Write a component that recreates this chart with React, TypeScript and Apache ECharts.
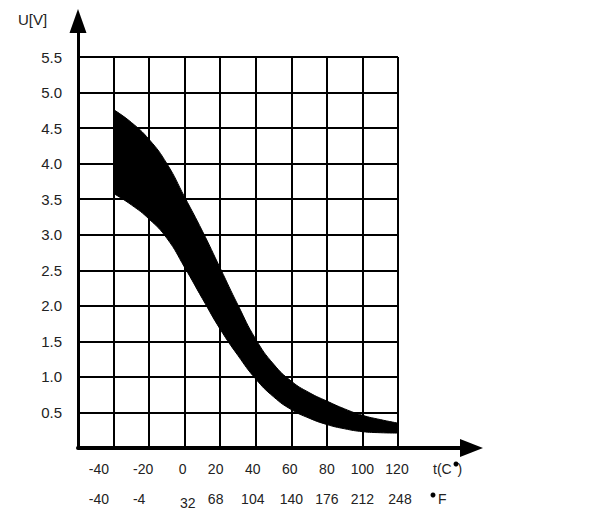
import React, { useEffect, useRef } from "react";
import * as echarts from "echarts";

// Band data: temperature (°C) points and voltage limits (V)
const tempPoints = [-40, -30, -20, -10, 0, 10, 20, 30, 40, 50, 60, 70, 80, 90, 100, 110, 120];
const upperV = [4.76, 4.58, 4.34, 4.0, 3.53, 3.05, 2.53, 2.01, 1.53, 1.18, 0.94, 0.78, 0.66, 0.55, 0.46, 0.4, 0.35];
const lowerV = [3.58, 3.42, 3.22, 2.95, 2.54, 2.1, 1.67, 1.3, 0.97, 0.72, 0.54, 0.42, 0.33, 0.27, 0.23, 0.215, 0.21];

// Tick labels
const celsiusTicks = [-40, -20, 0, 20, 40, 60, 80, 100, 120];
const fahrenheitTicks = [-40, -4, 32, 68, 104, 140, 176, 212, 248];

// label horizontal nudges (layout only)
const cShift = [-14.6, -6, -2, -4.6, -3, -1.6, 0, 0, -1];
const fShift = [-14.6, -10, 3, -4.6, -3, 0, 0, 0, 2];
const fDrop = [0, 0, 4, 0, 0, 0, 0, 0, 0];

const FONT = "'Liberation Sans', Arial, sans-serif";
const TXT = "#222";

function richFor(shifts: number[], drops: number[] | null, size: number) {
  const r: any = {};
  shifts.forEach((s, i) => {
    const d = drops ? drops[i] : 0;
    r["s" + i] = {
      fontSize: size,
      fontFamily: FONT,
      color: TXT,
      padding: [d, s < 0 ? -2 * s : 0, 0, s > 0 ? 2 * s : 0],
    };
  });
  return r;
}

export default function App() {
  const ref = useRef<HTMLDivElement>(null);
  useEffect(() => {
    document.body.style.margin = "0";
    const chart = echarts.init(ref.current!, null, { renderer: "svg" });
    const L = 78;
    const R = 398;
    const T = 57;
    const B = 448;
    const pxPerDeg = (R - L) / 180;
    const bandLeft = L + 20 * pxPerDeg;

    const diff = upperV.map((u, i) => +(u - lowerV[i]).toFixed(3));

    const option: any = {
      animation: false,
      backgroundColor: "#fff",
      grid: [
        { left: L, top: T, width: R - L, height: B - T },
        { left: L, top: 21, width: 471.5 - L, height: B - 21 },
        { left: bandLeft, top: T, width: R - bandLeft, height: B - T },
      ],
      xAxis: [
        {
          gridIndex: 0,
          type: "value",
          min: -60,
          max: 120,
          interval: 20,
          axisLine: { show: false },
          axisTick: { show: false },
          splitLine: { show: true, lineStyle: { color: "#000", width: 2 } },
          axisLabel: {
            margin: 14,
            formatter: (v: number) => {
              const i = celsiusTicks.indexOf(v);
              return i < 0 ? "" : `{s${i}|${celsiusTicks[i]}}`;
            },
            rich: richFor(cShift, null, 14),
          },
        },
        {
          gridIndex: 0,
          type: "value",
          position: "bottom",
          min: -60,
          max: 120,
          interval: 20,
          axisLine: { show: false },
          axisTick: { show: false },
          splitLine: { show: false },
          axisLabel: {
            margin: 44,
            formatter: (v: number) => {
              const i = celsiusTicks.indexOf(v);
              return i < 0 ? "" : `{s${i}|${fahrenheitTicks[i]}}`;
            },
            rich: richFor(fShift, fDrop, 14),
          },
        },
        {
          gridIndex: 1,
          type: "value",
          min: 0,
          max: 1,
          axisLine: {
            show: true,
            symbol: ["none", "triangle"],
            symbolSize: [18, 23],
            lineStyle: { color: "#000", width: 4 },
          },
          axisTick: { show: false },
          axisLabel: { show: false },
          splitLine: { show: false },
        },
        {
          gridIndex: 2,
          type: "category",
          data: tempPoints.map(String),
          boundaryGap: false,
          show: false,
        },
      ],
      yAxis: [
        {
          gridIndex: 0,
          type: "value",
          min: 0,
          max: 5.5,
          interval: 0.5,
          axisLine: { show: false },
          axisTick: { show: false },
          splitLine: { show: true, lineStyle: { color: "#000", width: 2 } },
          axisLabel: {
            margin: 16,
            fontSize: 15,
            fontFamily: FONT,
            color: TXT,
            formatter: (v: number) => (v === 0 ? "" : v.toFixed(1)),
          },
        },
        {
          gridIndex: 1,
          type: "value",
          min: 0,
          max: 1,
          axisLine: {
            show: true,
            symbol: ["none", "triangle"],
            symbolSize: [17, 24],
            lineStyle: { color: "#000", width: 3 },
          },
          axisTick: { show: false },
          axisLabel: { show: false },
          splitLine: { show: false },
        },
        {
          gridIndex: 2,
          type: "value",
          min: 0,
          max: 5.5,
          show: false,
        },
      ],
      series: [
        {
          type: "line",
          xAxisIndex: 3,
          yAxisIndex: 2,
          stack: "band",
          data: lowerV,
          smooth: 0.5,
          symbol: "none",
          lineStyle: { color: "#000", width: 1 },
          z: 5,
        },
        {
          type: "line",
          xAxisIndex: 3,
          yAxisIndex: 2,
          stack: "band",
          data: diff,
          smooth: 0.5,
          symbol: "none",
          lineStyle: { color: "#000", width: 1 },
          areaStyle: { color: "#000", opacity: 1 },
          z: 5,
        },
      ],
      graphic: [
        {
          type: "text",
          x: 18,
          y: 19,
          style: { text: "U[V]", fontSize: 15, fontFamily: FONT, fill: TXT, align: "left", verticalAlign: "middle" },
        },
        {
          type: "text",
          x: 433,
          y: 469,
          style: { text: "t(C", fontSize: 14, fontFamily: FONT, fill: TXT, align: "left", verticalAlign: "middle" },
        },
        {
          type: "text",
          x: 457.5,
          y: 469,
          style: { text: ")", fontSize: 14, fontFamily: FONT, fill: TXT, align: "left", verticalAlign: "middle" },
        },
        { type: "circle", shape: { cx: 456, cy: 464, r: 2.5 }, style: { fill: "#000" } },
        { type: "circle", shape: { cx: 433, cy: 495, r: 2.5 }, style: { fill: "#000" } },
        {
          type: "text",
          x: 438,
          y: 499,
          style: { text: "F", fontSize: 14, fontFamily: FONT, fill: TXT, align: "left", verticalAlign: "middle" },
        },
      ],
    };
    chart.setOption(option);
    return () => chart.dispose();
  }, []);
  return <div ref={ref} style={{ width: 611, height: 523 }} />;
}
